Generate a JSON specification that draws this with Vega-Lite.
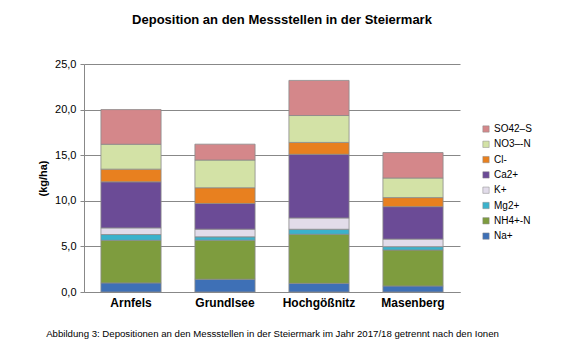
{
  "$schema": "https://vega.github.io/schema/vega-lite/v6.json",
  "width": 376,
  "height": 228,
  "autosize": {"type": "none"},
  "padding": {"left": 84, "top": 64, "right": 102, "bottom": 68},
  "background": "white",
  "title": {
    "text": "Deposition an den Messstellen in der Steiermark",
    "font": "Liberation Sans",
    "fontSize": 13,
    "fontWeight": "bold",
    "color": "black",
    "anchor": "middle",
    "offset": 31,
    "dx": 10
  },
  "data": {
    "values": [
      {"Messstelle": "Arnfels", "Ion": "Na+", "i": 1, "Wert": 1.0},
      {"Messstelle": "Arnfels", "Ion": "NH4+-N", "i": 2, "Wert": 4.67},
      {"Messstelle": "Arnfels", "Ion": "Mg2+", "i": 3, "Wert": 0.63},
      {"Messstelle": "Arnfels", "Ion": "K+", "i": 4, "Wert": 0.73},
      {"Messstelle": "Arnfels", "Ion": "Ca2+", "i": 5, "Wert": 5.05},
      {"Messstelle": "Arnfels", "Ion": "Cl-", "i": 6, "Wert": 1.39},
      {"Messstelle": "Arnfels", "Ion": "NO3–-N", "i": 7, "Wert": 2.73},
      {"Messstelle": "Arnfels", "Ion": "SO42–S", "i": 8, "Wert": 3.8},
      {"Messstelle": "Grundlsee", "Ion": "Na+", "i": 1, "Wert": 1.4},
      {"Messstelle": "Grundlsee", "Ion": "NH4+-N", "i": 2, "Wert": 4.28},
      {"Messstelle": "Grundlsee", "Ion": "Mg2+", "i": 3, "Wert": 0.37},
      {"Messstelle": "Grundlsee", "Ion": "K+", "i": 4, "Wert": 0.84},
      {"Messstelle": "Grundlsee", "Ion": "Ca2+", "i": 5, "Wert": 2.82},
      {"Messstelle": "Grundlsee", "Ion": "Cl-", "i": 6, "Wert": 1.72},
      {"Messstelle": "Grundlsee", "Ion": "NO3–-N", "i": 7, "Wert": 3.04},
      {"Messstelle": "Grundlsee", "Ion": "SO42–S", "i": 8, "Wert": 1.74},
      {"Messstelle": "Hochgößnitz", "Ion": "Na+", "i": 1, "Wert": 0.95},
      {"Messstelle": "Hochgößnitz", "Ion": "NH4+-N", "i": 2, "Wert": 5.38},
      {"Messstelle": "Hochgößnitz", "Ion": "Mg2+", "i": 3, "Wert": 0.55},
      {"Messstelle": "Hochgößnitz", "Ion": "K+", "i": 4, "Wert": 1.24},
      {"Messstelle": "Hochgößnitz", "Ion": "Ca2+", "i": 5, "Wert": 6.98},
      {"Messstelle": "Hochgößnitz", "Ion": "Cl-", "i": 6, "Wert": 1.3},
      {"Messstelle": "Hochgößnitz", "Ion": "NO3–-N", "i": 7, "Wert": 2.95},
      {"Messstelle": "Hochgößnitz", "Ion": "SO42–S", "i": 8, "Wert": 3.85},
      {"Messstelle": "Masenberg", "Ion": "Na+", "i": 1, "Wert": 0.66},
      {"Messstelle": "Masenberg", "Ion": "NH4+-N", "i": 2, "Wert": 3.94},
      {"Messstelle": "Masenberg", "Ion": "Mg2+", "i": 3, "Wert": 0.37},
      {"Messstelle": "Masenberg", "Ion": "K+", "i": 4, "Wert": 0.83},
      {"Messstelle": "Masenberg", "Ion": "Ca2+", "i": 5, "Wert": 3.56},
      {"Messstelle": "Masenberg", "Ion": "Cl-", "i": 6, "Wert": 0.99},
      {"Messstelle": "Masenberg", "Ion": "NO3–-N", "i": 7, "Wert": 2.15},
      {"Messstelle": "Masenberg", "Ion": "SO42–S", "i": 8, "Wert": 2.79}
    ]
  },
  "mark": {"type": "bar", "stroke": "#8a8a8a", "strokeWidth": 0.8},
  "encoding": {
    "x": {
      "field": "Messstelle",
      "type": "nominal",
      "sort": ["Arnfels", "Grundlsee", "Hochgößnitz", "Masenberg"],
      "scale": {"paddingInner": 0.36, "paddingOuter": 0.18},
      "axis": {
        "title": "Abbildung 3: Depositionen an den Messstellen in der Steiermark im Jahr 2017/18 getrennt nach den Ionen",
        "titleFont": "Liberation Sans",
        "titleFontSize": 9.65,
        "titleFontWeight": "normal",
        "titleColor": "black",
        "titlePadding": 20,
        "labelAngle": 0,
        "labelFont": "Liberation Sans",
        "labelFontSize": 12,
        "labelFontWeight": "bold",
        "labelColor": "black",
        "labelPadding": 5,
        "ticks": false,
        "grid": false,
        "domainColor": "#888888"
      }
    },
    "y": {
      "field": "Wert",
      "type": "quantitative",
      "aggregate": "sum",
      "stack": "zero",
      "scale": {"domain": [0, 25], "nice": false},
      "axis": {
        "title": "(kg/ha)",
        "titleFont": "Liberation Sans",
        "titleFontSize": 11,
        "titleFontWeight": "bold",
        "titleColor": "black",
        "titlePadding": 6,
        "values": [0, 5, 10, 15, 20, 25],
        "labelExpr": "replace(format(datum.value, '.1f'), '.', ',')",
        "labelFont": "Liberation Sans",
        "labelFontSize": 11,
        "labelColor": "black",
        "labelPadding": 4,
        "tickSize": 4,
        "tickColor": "#888888",
        "domainColor": "#888888",
        "grid": true,
        "gridColor": "#888888",
        "gridWidth": 1
      }
    },
    "color": {
      "field": "Ion",
      "type": "nominal",
      "sort": ["SO42–S", "NO3–-N", "Cl-", "Ca2+", "K+", "Mg2+", "NH4+-N", "Na+"],
      "scale": {
        "domain": ["SO42–S", "NO3–-N", "Cl-", "Ca2+", "K+", "Mg2+", "NH4+-N", "Na+"],
        "range": ["#d4878a", "#d3e2a6", "#e8801f", "#6b4b96", "#e2dcea", "#3bb2cc", "#7e9c3e", "#3e70b6"]
      },
      "legend": {
        "title": null,
        "orient": "none",
        "legendX": 397,
        "legendY": 60,
        "symbolType": "square",
        "symbolSize": 40,
        "symbolStrokeColor": "#888888",
        "symbolStrokeWidth": 0.5,
        "labelFont": "Liberation Sans",
        "labelFontSize": 10,
        "labelColor": "black",
        "rowPadding": 5.3,
        "labelOffset": 3
      }
    },
    "order": {"field": "i", "type": "quantitative", "sort": "ascending"}
  },
  "config": {
    "view": {"stroke": null}
  }
}
